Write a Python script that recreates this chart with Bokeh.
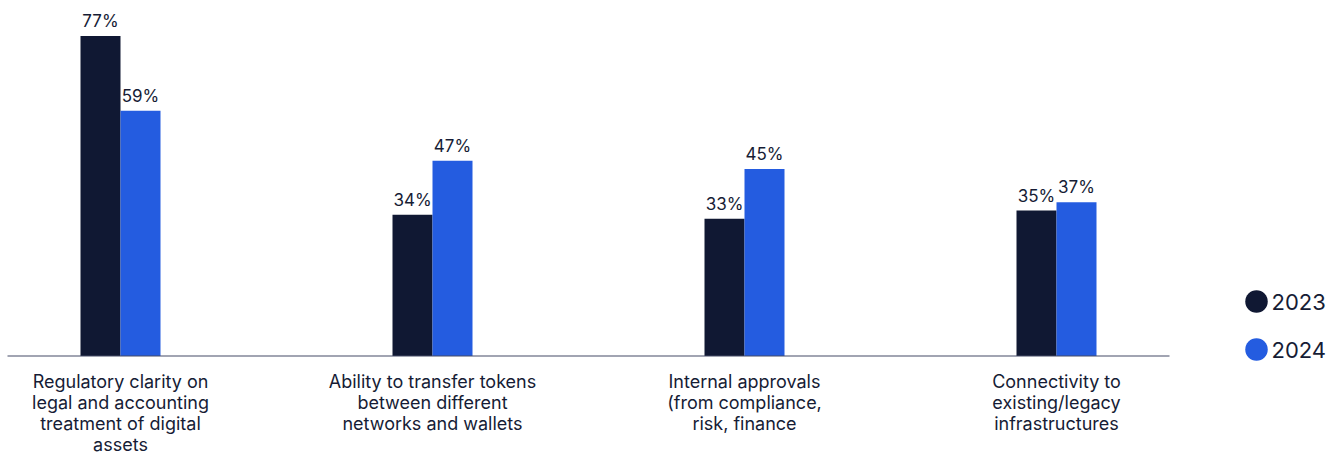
from bokeh.plotting import figure
from bokeh.models import ColumnDataSource, Range1d
from bokeh.core.properties import value
from bokeh.embed import file_html
from bokeh.resources import INLINE

categories = [
    "Regulatory clarity on\nlegal and accounting\ntreatment of digital\nassets",
    "Ability to transfer tokens\nbetween different\nnetworks and wallets",
    "Internal approvals\n(from compliance,\nrisk, finance",
    "Connectivity to\nexisting/legacy\ninfrastructures",
]
series_2023 = [77, 34, 33, 35]
series_2024 = [59, 47, 45, 37]
years = ["2023", "2024"]

C2023 = "#101833"
C2024 = "#245CE0"
TXT = "#161C35"
FONT = "Inter"

W, H = 1343, 454
GROUP_PX = 312          # px between category centers
FIRST_CENTER_PX = 120   # px from left edge to first category centre
PAD = 113 / GROUP_PX    # baseline extension beyond outer categories
PX_PER_PCT = 4.156
BASE_PX = 355.5         # baseline from top

bw = 40 / GROUP_PX
n = len(categories)
idx = list(range(n))

x_start = -FIRST_CENTER_PX / GROUP_PX
y_top = BASE_PX / PX_PER_PCT
y_bot = -(H - BASE_PX) / PX_PER_PCT


def px_x(px):
    return x_start + px / GROUP_PX


def px_y(py):
    return (BASE_PX - py) / PX_PER_PCT


p = figure(width=W, height=H, output_backend="svg", toolbar_location=None,
           x_range=Range1d(x_start, px_x(W)),
           y_range=Range1d(y_bot, y_top),
           x_axis_location=None, y_axis_location=None,
           min_border=0, outline_line_color=None)
p.grid.visible = False
p.background_fill_color = None
p.border_fill_color = None

src23 = ColumnDataSource(dict(x=[i - bw / 2 for i in idx], top=series_2023,
                              lab=[f"{v}%" for v in series_2023]))
src24 = ColumnDataSource(dict(x=[i + bw / 2 for i in idx], top=series_2024,
                              lab=[f"{v}%" for v in series_2024]))

p.vbar(x="x", top="top", width=bw, source=src23, fill_color=C2023, line_color=None)
p.vbar(x="x", top="top", width=bw, source=src24, fill_color=C2024, line_color=None)

# baseline (category axis line)
p.segment(x0=[-PAD], x1=[n - 1 + PAD], y0=[0], y1=[0], line_color="#444a66",
          line_width=1.2)

for s in (src23, src24):
    p.text(x="x", y="top", text="lab", source=s, text_align="center",
           text_baseline="bottom", y_offset=-5, text_font=value(FONT),
           text_font_size="17px", text_color=TXT)

cat_src = ColumnDataSource(dict(x=idx, y=[0] * n, t=categories))
p.text(x="x", y="y", text="t", source=cat_src, text_align="center",
       text_baseline="top", y_offset=15, text_font=value(FONT),
       text_font_size="18px", text_color=TXT, text_line_height=1.0)

# legend (manual, positioned in pixel layout terms)
leg_src = ColumnDataSource(dict(
    x=[px_x(1256)] * 2, y=[px_y(301), px_y(349)],
    tx=[px_x(1271)] * 2, c=[C2023, C2024], t=years))
p.scatter(x="x", y="y", size=22.5, fill_color="c", line_color=None, source=leg_src)
p.text(x="tx", y="y", text="t", source=leg_src, text_align="left",
       text_baseline="middle", text_font=value(FONT), text_font_size="22px",
       text_color=TXT)

open("out.html", "w").write(file_html(p, INLINE))
